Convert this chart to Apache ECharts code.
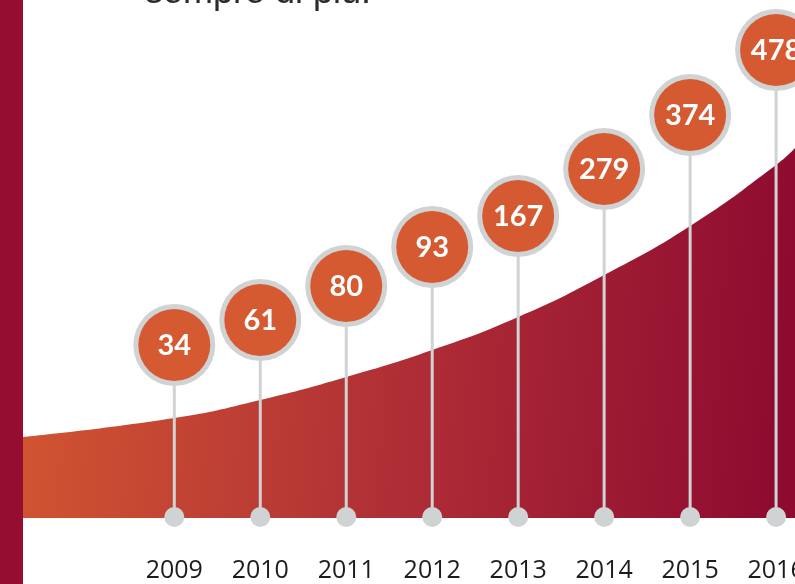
<!DOCTYPE html>
<html>
<head>
<meta charset="utf-8">
<script src="https://cdn.jsdelivr.net/npm/echarts@6/dist/echarts.min.js"></script>
<style>
html,body{margin:0;padding:0;background:#fff;}
#chart{width:795px;height:584px;}
</style>
</head>
<body>
<div id="chart"></div>
<script>
// Years shown on the axis
const years = [2009, 2010, 2011, 2012, 2013, 2014, 2015, 2016];
// Values shown in the bubbles
const values = [34, 61, 80, 93, 167, 279, 374, 478];
// Height of each bubble stem (on the hidden vertical scale)
const stemLevels = [173, 198, 232, 271, 302, 349, 403, 468];
// Decorative growth curve under the bubbles: [year position, level]
const trendYears = [2007.24, 2009, 2010, 2011, 2012, 2013, 2014, 2015, 2016, 2016.22];
const trendLevels = [81, 100, 118, 141, 168, 201, 243, 292, 353, 370];
// Heading text (partly visible at the top)
const heading = 'sempre di più.';

const chart = echarts.init(document.getElementById('chart'), null, {renderer: 'canvas'});

const trendData = trendYears.map((y, i) => [y, trendLevels[i]]);
const bubbleData = years.map((y, i) => [y, stemLevels[i], values[i]]);

const option = {
  animation: false,
  backgroundColor: '#ffffff',
  grid: {left: 23, right: 0, top: 0, bottom: 66, containLabel: false, outerBoundsMode: 'none'},
  xAxis: {
    type: 'value',
    min: 2007.24,
    max: 2016.22,
    axisLine: {show: false},
    axisTick: {show: false},
    splitLine: {show: false},
    axisLabel: {
      customValues: years,
      formatter: v => String(Math.round(v)),
      fontFamily: 'Open Sans',
      fontSize: 25,
      color: '#1e1b1c',
      verticalAlign: 'middle',
      margin: 53,
      hideOverlap: false
    }
  },
  yAxis: {
    type: 'value',
    min: 0,
    max: 518,
    show: false
  },
  graphic: [
    {type: 'rect', left: 0, top: 0, shape: {x: 0, y: 0, width: 23, height: 584}, style: {fill: '#960d32'}, z: 10},
    {type: 'text', x: 145, y: 11, style: {text: heading, fontFamily: 'Liberation Sans', fontSize: 36, fill: '#2b2b2b', verticalAlign: 'bottom'}, z: 10}
  ],
  series: [
    {
      type: 'line',
      data: trendData,
      smooth: 0.5,
      symbol: 'none',
      lineStyle: {width: 0},
      areaStyle: {
        opacity: 1,
        color: new echarts.graphic.LinearGradient(0, 0, 1, 0.15, [
          {offset: 0, color: '#d25631'},
          {offset: 0.5, color: '#b02f36'},
          {offset: 1, color: '#8e0b30'}
        ])
      },
      z: 1
    },
    {
      type: 'custom',
      data: bubbleData,
      z: 5,
      clip: false,
      renderItem: function (params, api) {
        const base = api.coord([api.value(0), 0]);
        const top = api.coord([api.value(0), api.value(1)]);
        const x = base[0];
        const by = base[1] - 1;
        const ty = top[1];
        return {
          type: 'group',
          children: [
            {type: 'line', shape: {x1: x, y1: by, x2: x, y2: ty}, style: {stroke: '#d0d3d4', lineWidth: 3}},
            {type: 'circle', shape: {cx: x, cy: by, r: 10}, style: {fill: '#d0d3d4'}},
            {type: 'circle', shape: {cx: x, cy: ty, r: 41}, style: {fill: '#d0d3d4'}},
            {type: 'circle', shape: {cx: x, cy: ty, r: 36}, style: {fill: '#d65a31'}},
            {type: 'text', x: x, y: ty + 1, style: {text: String(api.value(2)), fill: '#ffffff', fontFamily: 'Lato', fontWeight: 'bold', fontSize: 29, align: 'center', verticalAlign: 'middle'}}
          ]
        };
      }
    }
  ]
};
chart.setOption(option);
</script>
</body>
</html>
